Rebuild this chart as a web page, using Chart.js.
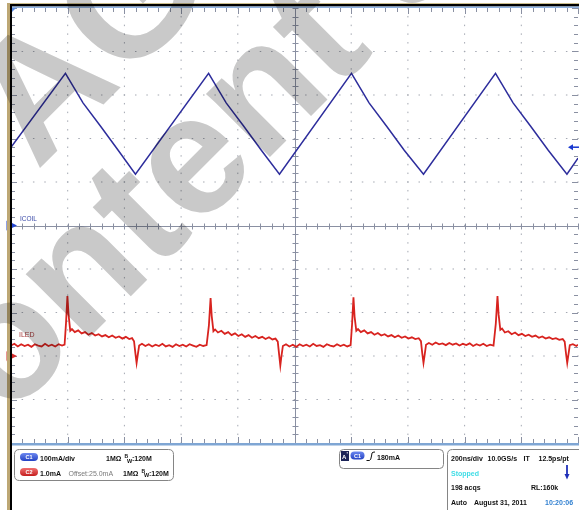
<!DOCTYPE html>
<html>
<head>
<meta charset="utf-8">
<script src="https://cdn.jsdelivr.net/npm/chart.js@4.4.1/dist/chart.umd.min.js"></script>
<style>
  html, body { margin: 0; padding: 0; background: #fff; }
  #wrap { position: relative; width: 579px; height: 510px; }
</style>
</head>
<body>
<div id="wrap"><canvas id="scope" width="579" height="510"></canvas></div>
<script>
// scope capture: 200ns/div, CH1 100mA/div, CH2 1mA/div (offset 25mA)

// time graticule (ns)
const timeTicks = [-1000, -800, -600, -400, -200, 0, 200, 400, 600, 800, 1000];
// CH1 graticule (mA)
const coilTicks = [-500, -400, -300, -200, -100, 0, 100, 200, 300, 400, 500];

// ICOIL trace (CH1, mA)
const coilTimes  = [-1000, -808, -746, -684, -622, -561, -303, -241, -179, -117, -53,
                    201, 263, 325, 387, 455, 709, 771, 833, 895, 961, 1000];
const coilValues = [180, 350, 282, 228, 173, 118, 350, 282, 228, 173, 118,
                    350, 282, 228, 173, 118, 350, 282, 228, 173, 118, 155];

// ILED trace (CH2, mA)
const ledTimes = [
  -1000, -988, -976, -964, -952, -940, -928, -916, -904, -892, -880, -868, -856, -844, -832, -820, -811,
  -806, -801, -797, -791, -785,
  -775, -763, -751, -739, -727, -715, -703, -691, -679, -667, -655, -643, -631, -619, -607, -595, -583, -573, -566,
  -561, -557, -553, -548,
  -538, -526, -514, -502, -490, -478, -466, -454, -442, -430, -418, -406, -394, -382, -370, -358, -346, -334, -322, -310,
  -302, -296, -292, -286, -280,
  -270, -258, -246, -234, -222, -210, -198, -186, -174, -162, -150, -138, -126, -114, -102, -90, -78, -67, -59,
  -54, -50, -46, -41,
  -30, -18, -6, 6, 18, 30, 42, 54, 66, 78, 90, 102, 114, 126, 138, 150, 162, 174, 186, 198,
  203, 208, 212, 218, 224,
  234, 246, 258, 270, 282, 294, 306, 318, 330, 342, 354, 366, 378, 390, 402, 414, 426, 438, 446,
  451, 455, 459, 464,
  474, 486, 498, 510, 522, 534, 546, 558, 570, 582, 594, 606, 618, 630, 642, 654, 666, 678, 690, 702,
  710, 716, 720, 726, 732,
  742, 754, 766, 778, 790, 802, 814, 826, 838, 850, 862, 874, 886, 898, 910, 922, 934, 946, 953,
  958, 962, 966, 971,
  982, 994, 1000
];
const ledValues = [
  22.24, 22.28, 22.22, 22.27, 22.23, 22.26, 22.21, 22.27, 22.24, 22.22, 22.28, 22.23, 22.26, 22.22, 22.27, 22.24, 22.26,
  22.75, 23.38, 22.95, 22.58, 22.62,
  22.55, 22.59, 22.52, 22.55, 22.49, 22.53, 22.47, 22.50, 22.45, 22.48, 22.43, 22.47, 22.42, 22.45, 22.40, 22.44, 22.39, 22.41, 22.34,
  22.05, 21.84, 22.02, 22.24,
  22.28, 22.23, 22.27, 22.22, 22.26, 22.23, 22.28, 22.22, 22.25, 22.21, 22.27, 22.23, 22.26, 22.22, 22.27, 22.24, 22.21, 22.26, 22.23, 22.25,
  22.70, 23.33, 22.92, 22.57, 22.61,
  22.54, 22.58, 22.51, 22.55, 22.48, 22.52, 22.46, 22.50, 22.44, 22.48, 22.42, 22.46, 22.41, 22.44, 22.39, 22.43, 22.38, 22.40, 22.33,
  22.02, 21.78, 22.00, 22.23,
  22.27, 22.22, 22.26, 22.21, 22.27, 22.23, 22.26, 22.22, 22.28, 22.23, 22.25, 22.21, 22.27, 22.24, 22.22, 22.27, 22.23, 22.26, 22.22, 22.25,
  22.72, 23.35, 22.90, 22.58, 22.62,
  22.55, 22.59, 22.52, 22.55, 22.49, 22.53, 22.47, 22.50, 22.45, 22.48, 22.43, 22.47, 22.42, 22.45, 22.40, 22.43, 22.39, 22.41, 22.34,
  22.04, 21.84, 22.02, 22.26,
  22.30, 22.26, 22.31, 22.27, 22.29, 22.25, 22.30, 22.26, 22.29, 22.24, 22.28, 22.25, 22.29, 22.23, 22.27, 22.24, 22.28, 22.23, 22.26, 22.24,
  22.74, 23.38, 22.95, 22.60, 22.63,
  22.54, 22.57, 22.50, 22.54, 22.48, 22.51, 22.46, 22.49, 22.44, 22.47, 22.42, 22.45, 22.40, 22.43, 22.39, 22.41, 22.37, 22.39, 22.33,
  22.04, 21.84, 22.02, 22.25,
  22.27, 22.23, 22.26
];

const triggerLevel = 180;  // mA on CH1
const ch2Marker = 22.0;    // CH2 reference marker, mA

// readout texts
const ch1Readout = ['100mA/div', '1M\u03A9', ':120M'];
const ch2Readout = ['1.0mA', 'Offset:25.0mA', '1M\u03A9', ':120M'];
const trigReadout = '180mA';
const acqReadout = ['200ns/div', '10.0GS/s', 'IT', '12.5ps/pt', 'Stopped', '198 acqs', 'RL:160k', 'Auto', 'August 31, 2011', '10:20:06'];

const FONT = '"Liberation Sans", Arial, sans-serif';

function rrect(ctx, x, y, w, h, r) {
    ctx.beginPath();
    ctx.moveTo(x + r, y);
    ctx.lineTo(x + w - r, y);
    ctx.quadraticCurveTo(x + w, y, x + w, y + r);
    ctx.lineTo(x + w, y + h - r);
    ctx.quadraticCurveTo(x + w, y + h, x + w - r, y + h);
    ctx.lineTo(x + r, y + h);
    ctx.quadraticCurveTo(x, y + h, x, y + h - r);
    ctx.lineTo(x, y + r);
    ctx.quadraticCurveTo(x, y, x + r, y);
    ctx.closePath();
}

function pill(ctx, x, y, w, h, c1, c2, label) {
    const g = ctx.createLinearGradient(0, y, 0, y + h);
    g.addColorStop(0, c1);
    g.addColorStop(1, c2);
    ctx.fillStyle = g;
    rrect(ctx, x, y, w, h, h / 2);
    ctx.fill();
    ctx.fillStyle = '#fff';
    ctx.font = 'bold 5.5px ' + FONT;
    ctx.textAlign = 'center';
    ctx.textBaseline = 'middle';
    ctx.fillText(label, x + w / 2, y + h / 2 + 0.5);
    ctx.textAlign = 'left';
    ctx.textBaseline = 'alphabetic';
}

function bw(ctx, x, yb) {
    ctx.font = 'bold 5px ' + FONT;
    ctx.fillText('B', x, yb - 3);
    ctx.font = 'bold 5.5px ' + FONT;
    ctx.fillText('W', x + 2.5, yb + 1.5);
}

// graticule: dotted divisions, centre axes and edge ticks
const graticule = {
    id: 'graticule',
    beforeDatasetsDraw(chart) {
        const { ctx, chartArea: a, scales: { x, y } } = chart;
        const minorX = [], minorY = [];
        for (let t = -1000; t <= 1000; t += 40) minorX.push(x.getPixelForValue(t));
        for (let v = -500; v <= 500; v += 20) minorY.push(y.getPixelForValue(v));
        ctx.save();
        ctx.fillStyle = '#a4a8b2';
        timeTicks.slice(1, -1).forEach(t => {
            if (t === 0) return;
            const px = x.getPixelForValue(t);
            minorY.forEach(py => ctx.fillRect(px - 0.5, py - 0.75, 1, 1.5));
        });
        coilTicks.slice(1, -1).forEach(v => {
            if (v === 0) return;
            const py = y.getPixelForValue(v);
            minorX.forEach(px => ctx.fillRect(px - 0.75, py - 0.5, 1.5, 1));
        });
        ctx.strokeStyle = '#8a90a2';
        ctx.lineWidth = 1;
        const cx = Math.round(x.getPixelForValue(0)) + 0.5;
        const cy = Math.round(y.getPixelForValue(0)) + 0.5;
        ctx.beginPath();
        ctx.moveTo(cx, a.top); ctx.lineTo(cx, a.bottom);
        ctx.moveTo(a.left, cy); ctx.lineTo(a.right, cy);
        minorY.forEach((py, i) => {
            const big = i % 5 === 0;
            const p = Math.round(py) + 0.5;
            ctx.moveTo(cx - 3, p); ctx.lineTo(cx + 3, p);
            ctx.moveTo(a.left, p); ctx.lineTo(a.left + (big ? 6 : 4), p);
            ctx.moveTo(a.right, p); ctx.lineTo(a.right - (big ? 6 : 4), p);
        });
        minorX.forEach((px, i) => {
            const big = i % 5 === 0;
            const p = Math.round(px) + 0.5;
            ctx.moveTo(p, cy - 3); ctx.lineTo(p, cy + 3);
            ctx.moveTo(p, a.top); ctx.lineTo(p, a.top + (big ? 6 : 4));
            ctx.moveTo(p, a.bottom); ctx.lineTo(p, a.bottom - (big ? 6 : 4));
        });
        ctx.stroke();
        ctx.restore();
    },
    afterDatasetsDraw(chart) {
        const { ctx, chartArea: a, scales: { y, y2 } } = chart;
        ctx.save();
        // trace labels
        ctx.font = '6.5px ' + FONT;
        ctx.fillStyle = '#3a4aa8';
        ctx.fillText('ICOIL', 20, 221);
        ctx.font = '7px ' + FONT;
        ctx.fillStyle = '#a83a3a';
        ctx.fillText('ILED', 19, 337);

        // channel ground markers
        const m1 = y.getPixelForValue(0), m2 = y2.getPixelForValue(ch2Marker);
        [[m1, '#2244d0', '1'], [m2, '#d42a2a', '2']].forEach(([py, col, lab]) => {
            ctx.fillStyle = col;
            rrect(ctx, 6.5, py - 5.5, 5, 11, 1.5);
            ctx.fill();
            ctx.beginPath();
            ctx.moveTo(12, py - 2.5); ctx.lineTo(17, py); ctx.lineTo(12, py + 2.5);
            ctx.closePath(); ctx.fill();
            ctx.fillRect(12, py - 0.5, 2, 1);
            ctx.fillStyle = '#fff';
            ctx.font = 'bold 6px ' + FONT;
            ctx.textAlign = 'center';
            ctx.fillText(lab, 9, py + 2.2);
            ctx.textAlign = 'left';
        });

        // trigger level arrow (right edge)
        const ty = y.getPixelForValue(triggerLevel);
        ctx.fillStyle = '#1a3ad0';
        ctx.beginPath();
        ctx.moveTo(568, ty); ctx.lineTo(573, ty - 3); ctx.lineTo(573, ty + 3);
        ctx.closePath(); ctx.fill();
        ctx.fillRect(572, ty - 0.75, 7, 1.5);
        // trigger position marker (top left)
        ctx.fillStyle = '#5a8ae0';
        ctx.beginPath();
        ctx.moveTo(12, 8); ctx.lineTo(16, 8); ctx.lineTo(12, 12);
        ctx.closePath(); ctx.fill();
        ctx.restore();
    },
    afterDraw(chart) {
        const { ctx, chartArea: a } = chart;
        ctx.save();
        // frame
        ctx.fillStyle = '#bda774';
        ctx.fillRect(7, 3, 3, 507);
        ctx.fillStyle = '#000';
        ctx.fillRect(10, 3, 2, 507);
        ctx.fillStyle = '#cbbd8c';
        ctx.fillRect(10, 3, 569, 1.2);
        ctx.fillStyle = '#000';
        ctx.fillRect(10, 4, 569, 2.5);
        ctx.fillStyle = '#8fb2de';
        ctx.fillRect(12, 6.5, 567, 1.5);
        ctx.fillStyle = '#7fa6d4';
        ctx.fillRect(12, a.bottom, 567, 2.5);

        // CH1 / CH2 readout
        ctx.fillStyle = '#fff';
        ctx.strokeStyle = '#858585';
        ctx.lineWidth = 1;
        rrect(ctx, 14.5, 449.5, 159, 31, 5); ctx.fill(); ctx.stroke();
        pill(ctx, 20, 453, 18, 8, '#6c88f0', '#2442c4', 'C1');
        pill(ctx, 20, 468, 18, 8, '#f07070', '#c41e1e', 'C2');
        ctx.fillStyle = '#111';
        ctx.font = 'bold 7px ' + FONT;
        ctx.fillText(ch1Readout[0], 40, 461);
        ctx.fillText(ch1Readout[1], 106, 461);
        bw(ctx, 124.5, 461);
        ctx.font = 'bold 7px ' + FONT;
        ctx.fillText(ch1Readout[2], 132, 461);
        ctx.fillText(ch2Readout[0], 40, 475.5);
        ctx.fillStyle = '#7a7a7a';
        ctx.font = '7px ' + FONT;
        ctx.fillText(ch2Readout[1], 68.5, 475.5);
        ctx.fillStyle = '#111';
        ctx.font = 'bold 7px ' + FONT;
        ctx.fillText(ch2Readout[2], 123, 475.5);
        bw(ctx, 141.5, 475.5);
        ctx.font = 'bold 7px ' + FONT;
        ctx.fillText(ch2Readout[3], 149, 475.5);

        // trigger readout
        ctx.fillStyle = '#fff';
        rrect(ctx, 339.5, 449.5, 104, 19, 4); ctx.fill(); ctx.stroke();
        ctx.fillStyle = '#1c2458';
        ctx.fillRect(341, 451, 8, 10);
        ctx.fillStyle = '#fff';
        ctx.font = 'bold 6px ' + FONT;
        ctx.fillText('A', 342, 458.5);
        ctx.fillText("'", 346.5, 456);
        pill(ctx, 350.5, 451.5, 14, 8, '#6c88f0', '#2442c4', 'C1');
        ctx.strokeStyle = '#111';
        ctx.beginPath();
        ctx.moveTo(366.5, 460.5); ctx.lineTo(369.5, 460.5);
        ctx.quadraticCurveTo(371, 460, 371.5, 456);
        ctx.lineTo(372, 453); ctx.quadraticCurveTo(372.5, 452, 375, 452);
        ctx.stroke();
        ctx.fillStyle = '#111';
        ctx.font = 'bold 7px ' + FONT;
        ctx.fillText(trigReadout, 377, 460);

        // acquisition readout
        ctx.fillStyle = '#fff';
        ctx.strokeStyle = '#858585';
        rrect(ctx, 447.5, 449.5, 140, 70, 5); ctx.fill(); ctx.stroke();
        ctx.fillStyle = '#111';
        ctx.fillText(acqReadout[0], 451, 461);
        ctx.fillText(acqReadout[1], 487.5, 461);
        ctx.fillText(acqReadout[2], 523.5, 461);
        ctx.fillText(acqReadout[3], 538.5, 461);
        ctx.fillStyle = '#3fdde6';
        ctx.fillText(acqReadout[4], 451, 476);
        ctx.fillStyle = '#111';
        ctx.fillText(acqReadout[5], 451, 490);
        ctx.fillText(acqReadout[6], 531, 490);
        ctx.fillText(acqReadout[7], 451, 505);
        ctx.fillText(acqReadout[8], 474, 505);
        ctx.fillStyle = '#2f7fd0';
        ctx.fillText(acqReadout[9], 545, 505);
        // stop arrow
        ctx.strokeStyle = '#1f2fb8';
        ctx.fillStyle = '#1f2fb8';
        ctx.lineWidth = 1.8;
        ctx.beginPath(); ctx.moveTo(567, 465); ctx.lineTo(567, 475); ctx.stroke();
        ctx.beginPath(); ctx.moveTo(564.5, 474); ctx.lineTo(569.5, 474); ctx.lineTo(567, 479.5);
        ctx.closePath(); ctx.fill();

        // watermark
        ctx.globalCompositeOperation = 'multiply';
        ctx.fillStyle = '#c9c9c9';
        ctx.font = 'bold 170px ' + FONT;
        const ang = -45 * Math.PI / 180;
        ctx.save();
        ctx.translate(-59, 486); ctx.rotate(ang);
        ctx.fillText('Technical content still valid', -ctx.measureText('Technical ').width, 0);
        ctx.restore();
        ctx.save();
        ctx.translate(37, 171); ctx.rotate(ang);
        ctx.fillText('ams AG', -ctx.measureText('ams ').width, 0);
        ctx.restore();
        ctx.restore();
    }
};

new Chart(document.getElementById('scope'), {
    type: 'line',
    data: {
        datasets: [{
            label: 'ICOIL',
            data: coilTimes.map((t, i) => ({ x: t, y: coilValues[i] })),
            yAxisID: 'y',
            borderColor: '#2d2d9c',
            borderWidth: 1.5,
            pointRadius: 0,
            tension: 0
        }, {
            label: 'ILED',
            data: ledTimes.map((t, i) => ({ x: t, y: ledValues[i] })),
            yAxisID: 'y2',
            borderColor: '#d8231f',
            borderWidth: 1.8,
            pointRadius: 0,
            tension: 0
        }]
    },
    options: {
        responsive: false,
        animation: false,
        layout: { padding: { left: 11, top: 8, right: 1, bottom: 67 } },
        scales: {
            x: { type: 'linear', min: -1000, max: 1000, display: false },
            y: { min: -500, max: 500, display: false },
            y2: { min: 20, max: 30, display: false }
        },
        plugins: { legend: { display: false }, tooltip: { enabled: false } }
    },
    plugins: [graticule]
});
</script>
</body>
</html>
